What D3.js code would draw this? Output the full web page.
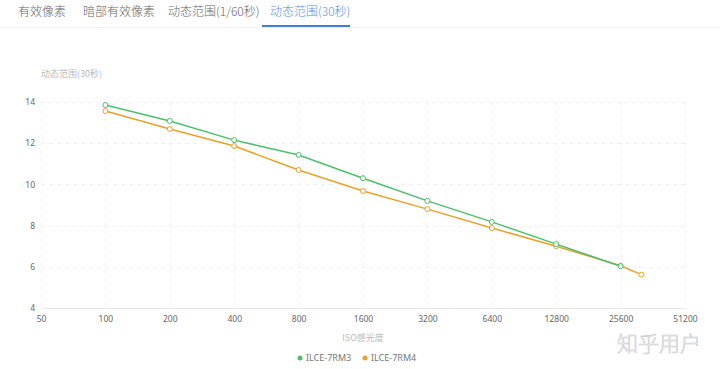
<!DOCTYPE html>
<html>
<head>
<meta charset="utf-8">
<script src="https://cdn.jsdelivr.net/npm/d3@7"></script>
<style>
  body { margin: 0; background: #fff; font-family: "Noto Sans CJK SC", "Noto Sans", sans-serif; }
  svg { display: block; }
</style>
</head>
<body>
<div id="chart"></div>
<script>
// Tabs above the chart
const tabs = ['有效像素', '暗部有效像素', '动态范围(1/60秒)', '动态范围(30秒)'];
const activeTab = 3;

// ISO values on the x axis and the two series
const isoTicks = [50, 100, 200, 400, 800, 1600, 3200, 6400, 12800, 25600, 51200];
const yTicks = [4, 6, 8, 10, 12, 14];
const seriesNames = ['ILCE-7RM3', 'ILCE-7RM4'];
const isoRM3 = [100, 200, 400, 800, 1600, 3200, 6400, 12800, 25600];
const drRM3 = [13.85, 13.08, 12.15, 11.43, 10.3, 9.2, 8.18, 7.1, 6.03];
const isoRM4 = [100, 200, 400, 800, 1600, 3200, 6400, 12800, 25600, 32000];
const drRM4 = [13.56, 12.69, 11.86, 10.7, 9.68, 8.8, 7.88, 7.0, 6.05, 5.62];

const colors = ['#4cbf6a', '#eca029'];

const config = {
  width: 720,
  height: 369,
  margin: {top: 102, right: 35, bottom: 61, left: 41}
};

const svg = d3.select('#chart').append('svg')
    .attr('width', config.width)
    .attr('height', config.height);

// Tab bar
const tabX = [18, 83, 168, 270];
const tabG = svg.append('g');
tabG.selectAll('text')
    .data(tabs)
  .join('text')
    .attr('x', (d, i) => tabX[i])
    .attr('y', 16)
    .attr('font-size', 12)
    .attr('font-weight', 300)
    .attr('fill', (d, i) => i === activeTab ? '#5a90dc' : '#666')
    .text(d => d);
tabG.append('line')
    .attr('x1', 0).attr('x2', config.width)
    .attr('y1', 27.5).attr('y2', 27.5)
    .attr('stroke', '#f0f0f0');
tabG.append('line')
    .attr('x1', 262).attr('x2', 350)
    .attr('y1', 26).attr('y2', 26)
    .attr('stroke', '#3f7fd4')
    .attr('stroke-width', 2);

const innerW = config.width - config.margin.left - config.margin.right;
const innerH = config.height - config.margin.top - config.margin.bottom;

const chart = svg.append('g')
    .attr('transform', `translate(${config.margin.left},${config.margin.top})`);

const xScale = d3.scaleLog().base(2)
    .domain([isoTicks[0], isoTicks[isoTicks.length - 1]])
    .range([0, innerW]);

const yScale = d3.scaleLinear()
    .domain([4, 14])
    .range([innerH, 0]);

// Grid lines
chart.append('g')
    .selectAll('line')
    .data(yTicks.filter(d => d > 4))
  .join('line')
    .attr('x1', 0).attr('x2', innerW)
    .attr('y1', d => Math.round(yScale(d)) + 0.5)
    .attr('y2', d => Math.round(yScale(d)) + 0.5)
    .attr('stroke', '#f0f0f0')
    .attr('stroke-dasharray', '4,4');

chart.append('g')
    .selectAll('line')
    .data(isoTicks)
  .join('line')
    .attr('x1', d => Math.round(xScale(d)) + 0.5)
    .attr('x2', d => Math.round(xScale(d)) + 0.5)
    .attr('y1', 0).attr('y2', innerH)
    .attr('stroke', '#f3f3f3')
    .attr('stroke-dasharray', '4,4');

// Bottom axis
const xAxis = d3.axisBottom(xScale)
    .tickValues(isoTicks)
    .tickFormat(d3.format('d'))
    .tickSize(0)
    .tickPadding(8);

const xAxisG = chart.append('g')
    .attr('transform', `translate(0,${innerH})`)
    .call(xAxis);
xAxisG.select('.domain').attr('stroke', '#e6e6e6');
xAxisG.selectAll('text')
    .attr('font-family', '"Noto Sans", sans-serif')
    .attr('font-size', 8.5)
    .attr('fill', '#666');

// Left axis (labels only)
const yAxis = d3.axisLeft(yScale)
    .tickValues(yTicks)
    .tickSize(0)
    .tickPadding(6);

const yAxisG = chart.append('g').call(yAxis);
yAxisG.select('.domain').remove();
yAxisG.selectAll('text')
    .attr('font-family', '"Noto Sans", sans-serif')
    .attr('font-size', 8.5)
    .attr('fill', '#666');

// Axis names
svg.append('text')
    .attr('x', 41)
    .attr('y', 77)
    .attr('font-size', 9)
    .attr('fill', '#bbb')
    .text('动态范围(30秒)');

svg.append('text')
    .attr('x', config.margin.left + xScale(1600))
    .attr('y', 341)
    .attr('text-anchor', 'middle')
    .attr('font-size', 9)
    .attr('fill', '#bbb')
    .text('ISO感光度');

// Series lines and points
const series = [
  {name: seriesNames[0], values: isoRM3.map((d, i) => ({iso: d, dr: drRM3[i]}))},
  {name: seriesNames[1], values: isoRM4.map((d, i) => ({iso: d, dr: drRM4[i]}))}
];

const line = d3.line()
    .x(d => xScale(d.iso))
    .y(d => yScale(d.dr));

// draw RM4 first so RM3 sits on top
[1, 0].forEach(si => {
  const s = series[si];
  chart.append('path')
      .datum(s.values)
      .attr('fill', 'none')
      .attr('stroke', colors[si])
      .attr('stroke-width', 1.5)
      .attr('d', line);
  chart.append('g')
      .selectAll('circle')
      .data(s.values)
    .join('circle')
      .attr('cx', d => xScale(d.iso))
      .attr('cy', d => yScale(d.dr))
      .attr('r', 2.5)
      .attr('fill', '#fff')
      .attr('stroke', colors[si])
      .attr('stroke-width', 1);
});

// Legend
const legendX = [300, 365];
const legend = svg.append('g')
    .selectAll('g')
    .data(seriesNames)
  .join('g')
    .attr('transform', (d, i) => `translate(${legendX[i]},358)`);
legend.append('circle')
    .attr('r', 2.5)
    .attr('fill', (d, i) => colors[i]);
legend.append('text')
    .attr('x', 6)
    .attr('dy', '0.35em')
    .attr('font-family', '"Noto Sans", sans-serif')
    .attr('font-size', 9)
    .attr('fill', '#777')
    .text(d => d);

// Watermark
svg.append('text')
    .attr('x', 701)
    .attr('y', 351)
    .attr('text-anchor', 'end')
    .attr('font-size', 21)
    .attr('font-weight', 300)
    .attr('fill', '#fff')
    .attr('stroke', '#c8c8c8')
    .attr('stroke-width', 0.6)
    .text('知乎用户');
</script>
</body>
</html>
